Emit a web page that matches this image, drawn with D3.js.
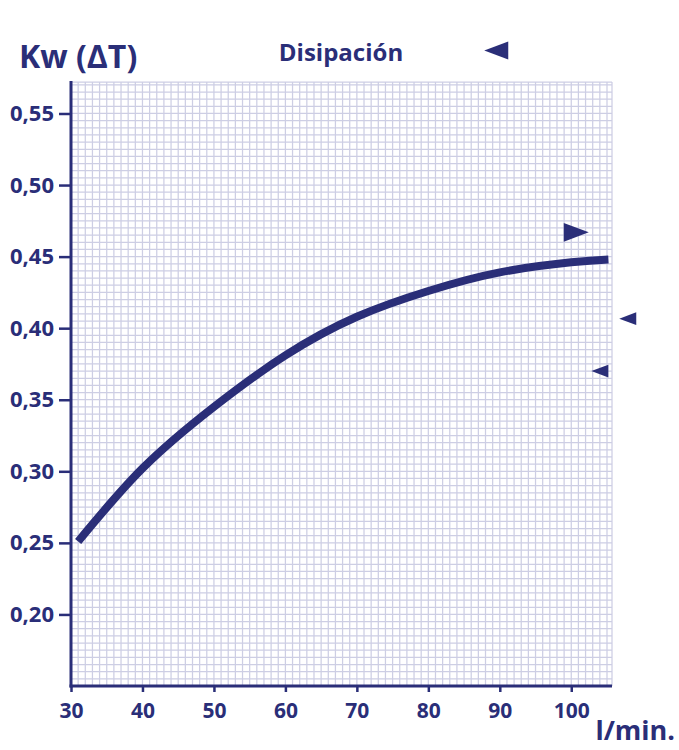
<!DOCTYPE html>
<html>
<head>
<meta charset="utf-8">
<script src="https://cdn.jsdelivr.net/npm/d3@7"></script>
<style>
  html, body { margin: 0; padding: 0; background: #fff; }
  svg { display: block; }
  text { font-family: "Open Sans", "DejaVu Sans", sans-serif; font-weight: 700; fill: #2a2e78; }
</style>
</head>
<body>
<svg id="chart" width="679" height="750"></svg>
<script>
// ---- data ----
const flow = [31, 40, 50, 60, 70, 80, 90, 100, 105.2];
const kw   = [0.251, 0.302, 0.345, 0.381, 0.408, 0.426, 0.439, 0.446, 0.448];
const xTicks = [30, 40, 50, 60, 70, 80, 90, 100];
const yTicks = [0.20, 0.25, 0.30, 0.35, 0.40, 0.45, 0.50, 0.55];
const yTickLabels = ["0,20", "0,25", "0,30", "0,35", "0,40", "0,45", "0,50", "0,55"];
// marker triangles: [x, y, direction]
const markerX = [89.5, 100.7, 107.9, 104.0];
const markerY = [0.594, 0.467, 0.4066, 0.370];
const markerDir = ["left", "right", "left", "left"];
const markerSize = [24, 25, 17, 17];

const navy = "#2a2e78";
const gridColor = "#cdcee4";

const svg = d3.select("#chart");
const x = d3.scaleLinear().domain([30, 105.7]).range([71, 612]);
const y = d3.scaleLinear().domain([0.15, 0.572]).range([686, 82]);

// grid
const g = svg.append("g");
const xMinor = d3.range(30, 105.5, 1);
const yMinor = d3.range(0, 85).map(i => 0.15 + i * 0.005);
g.selectAll(".vx").data(xMinor.concat([105.7])).join("line")
  .attr("x1", d => x(d)).attr("x2", d => x(d))
  .attr("y1", y(0.572)).attr("y2", y(0.15))
  .attr("stroke", gridColor).attr("stroke-width", 1.25);
g.selectAll(".hy").data(yMinor.concat([0.572])).join("line")
  .attr("y1", d => y(d)).attr("y2", d => y(d))
  .attr("x1", x(30)).attr("x2", x(105.7))
  .attr("stroke", gridColor).attr("stroke-width", 1.25);

// curve
const line = d3.line().x((d, i) => x(flow[i])).y((d, i) => y(kw[i])).curve(d3.curveNatural);
svg.append("path").datum(kw).attr("d", line)
  .attr("fill", "none").attr("stroke", navy).attr("stroke-width", 8).attr("stroke-linecap", "butt");

// axes
const xAxis = d3.axisBottom(x).tickValues(xTicks).tickSize(6).tickFormat(d3.format("d"));
const yAxis = d3.axisLeft(y).tickValues(yTicks).tickSize(12).tickFormat((d, i) => yTickLabels[i]);

const gx = svg.append("g").attr("transform", `translate(0,${y(0.15)})`).call(xAxis);
gx.select(".domain").remove();
gx.selectAll(".tick line").attr("stroke", navy).attr("stroke-width", 2.5);
gx.selectAll(".tick text").attr("font-size", 21).attr("dy", "1.1em").attr("y", 9)
  .style("font-family", '"Open Sans", sans-serif').style("font-weight", 700).attr("fill", navy);

const gy = svg.append("g").attr("transform", `translate(${x(30)},0)`).call(yAxis);
gy.select(".domain").remove();
gy.selectAll(".tick line").attr("stroke", navy).attr("stroke-width", 2.5);
gy.selectAll(".tick text").attr("font-size", 22).attr("x", -17)
  .style("font-family", '"Open Sans", sans-serif').style("font-weight", 700).attr("fill", navy);

// axis lines
svg.append("line").attr("x1", x(30)).attr("x2", x(30)).attr("y1", y(0.572) - 1).attr("y2", y(0.15) + 1.5)
  .attr("stroke", navy).attr("stroke-width", 3);
svg.append("line").attr("x1", x(30) - 1.5).attr("x2", x(105.7)).attr("y1", y(0.15)).attr("y2", y(0.15))
  .attr("stroke", navy).attr("stroke-width", 3);

// markers
const tri = (d, i) => {
  const s = markerSize[i], h = s * 0.75;
  const cx = x(markerX[i]), cy = y(markerY[i]);
  if (markerDir[i] === "left")
    return `M${cx - s/2},${cy} L${cx + s/2},${cy - h/2} L${cx + s/2},${cy + h/2} Z`;
  return `M${cx + s/2},${cy} L${cx - s/2},${cy - h/2} L${cx - s/2},${cy + h/2} Z`;
};
svg.selectAll(".marker").data(markerX).join("path").attr("d", tri).attr("fill", navy);

// titles
svg.append("text").attr("x", 19).attr("y", 68).attr("font-size", 32).text("Kw (ΔT)");
svg.append("text").attr("x", 341).attr("y", 61).attr("text-anchor", "middle").attr("font-size", 24).text("Disipación");
svg.append("text").attr("x", 675).attr("y", 740).attr("text-anchor", "end").attr("font-size", 27).text("l/min.");
</script>
</body>
</html>
